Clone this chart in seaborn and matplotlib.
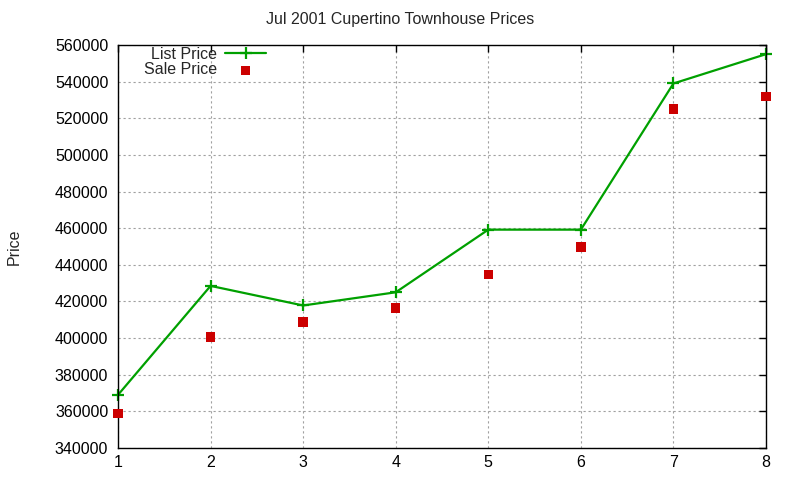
import pandas as pd
import matplotlib
matplotlib.use('Agg')
import matplotlib.pyplot as plt
import seaborn as sns

months = [1, 2, 3, 4, 5, 6, 7, 8]
list_price = [369000, 428500, 417800, 425000, 459200, 459200, 539000, 555000]
sale_price = [358800, 400600, 408800, 416500, 434600, 449800, 525000, 532000]

df = pd.DataFrame({'x': months, 'list': list_price, 'sale': sale_price})

sns.set_style('white')
plt.rcParams['font.family'] = ['Liberation Sans', 'DejaVu Sans']

fig = plt.figure(figsize=(8, 4.8), dpi=100)
ax = fig.add_axes([118 / 800, 1 - 448 / 480, (766 - 118) / 800, (448 - 45) / 480])

sns.lineplot(data=df, x='x', y='list', ax=ax, color='#00a000', linewidth=1.6,
             marker='+', markersize=8, markeredgewidth=1.6,
             markeredgecolor='#00a000', label='List Price', clip_on=False)
sns.scatterplot(data=df, x='x', y='sale', ax=ax, color='#cc0000', marker='s',
                s=45, edgecolor='none', label='Sale Price', zorder=3, clip_on=False)

ax.set_xlim(1, 8)
ax.set_ylim(340000, 560000)
ax.set_xticks(months)
ax.set_yticks(range(340000, 560001, 20000))
ax.tick_params(direction='in', length=5, width=1, top=True, right=True,
               labelsize=11.5, colors='black', pad=7)
ax.tick_params(axis='x', pad=5)
for s in ax.spines.values():
    s.set_color('black')
    s.set_linewidth(1)
ax.grid(True, color='#a0a0a0', linestyle=(0, (2, 2.5)), linewidth=0.8)

ax.set_xlabel('')
ax.set_ylabel('Price', fontsize=11.5)
ax.yaxis.set_label_coords(-0.148, 0.5)
fig.suptitle('Jul 2001 Cupertino Townhouse Prices', fontsize=11.5, y=0.975)

ax.legend(loc='upper left', bbox_to_anchor=(0.03, 1.012), frameon=False,
          markerfirst=False, fontsize=11.5, handlelength=2.6, labelspacing=0.05,
          handletextpad=0.5, borderaxespad=0)

plt.savefig('out.png', dpi=100)
